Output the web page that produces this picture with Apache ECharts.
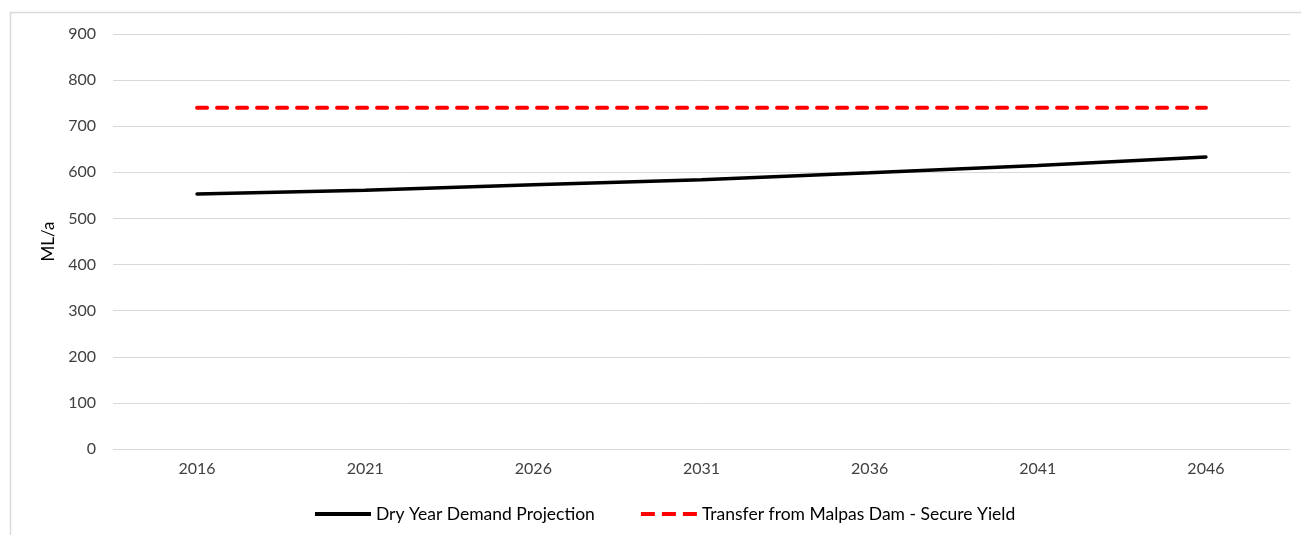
<!DOCTYPE html>
<html>
<head>
<meta charset="utf-8">
<style>
  html, body { margin: 0; padding: 0; background: #fff; }
  #chart { width: 1301px; height: 535px; }
</style>
<script src="https://cdn.jsdelivr.net/npm/echarts@6/dist/echarts.min.js"></script>
</head>
<body>
<div id="chart"></div>
<script>
// Years on the category axis
const years = ['2016', '2021', '2026', '2031', '2036', '2041', '2046'];
// Dry year demand projection (ML/a)
const demand = [553, 561, 573, 584, 599, 615, 633];
// Secure yield available by transfer from Malpas Dam (ML/a)
const secureYield = [740, 740, 740, 740, 740, 740, 740];

const FONT = 'Lato, "Open Sans", sans-serif';

// Legend keys: a solid bar and three dashes
const solidKey = 'path://M0,0 L56,0 L56,4 L0,4 Z';
const dashedKey = 'path://M0,0 L14,0 L14,4 L0,4 Z M21,0 L35,0 L35,4 L21,4 Z M42,0 L56,0 L56,4 L42,4 Z';

const chart = echarts.init(document.getElementById('chart'), null, { renderer: 'canvas' });

chart.setOption({
  backgroundColor: '#ffffff',
  animation: false,
  graphic: [{
    type: 'rect',
    shape: { x: 10.5, y: 12.5, width: 1300, height: 540 },
    style: { fill: 'none', stroke: '#d9d9d9', lineWidth: 1.5 },
    silent: true
  }],
  grid: { left: 113, right: 11, top: 34, bottom: 86 },
  legend: {
    bottom: 7,
    left: 310,
    itemWidth: 56,
    itemHeight: 4,
    itemGap: 46,
    textStyle: { fontFamily: FONT, fontSize: 17.5, color: '#000' },
    data: [
      { name: 'Dry Year Demand Projection', icon: solidKey },
      { name: 'Transfer from Malpas Dam - Secure Yield', icon: dashedKey }
    ]
  },
  xAxis: {
    type: 'category',
    data: years,
    boundaryGap: true,
    axisLine: { show: false },
    axisTick: { show: false },
    axisLabel: { fontFamily: FONT, fontSize: 16, color: '#404040', margin: 12 }
  },
  yAxis: {
    type: 'value',
    min: 0,
    max: 900,
    interval: 100,
    name: 'ML/a',
    nameLocation: 'middle',
    nameGap: 56,
    nameRotate: 90,
    nameTextStyle: { fontFamily: FONT, fontSize: 17, color: '#000' },
    axisLine: { show: false },
    axisTick: { show: false },
    axisLabel: { fontFamily: FONT, fontSize: 16, color: '#404040', margin: 17 },
    splitLine: { lineStyle: { color: '#d9d9d9', width: 1 } }
  },
  series: [
    {
      name: 'Dry Year Demand Projection',
      type: 'line',
      data: demand,
      symbol: 'none',
      lineStyle: { color: '#000000', width: 3.5, cap: 'round' },
      itemStyle: { color: '#000000' }
    },
    {
      name: 'Transfer from Malpas Dam - Secure Yield',
      type: 'line',
      data: secureYield,
      symbol: 'none',
      lineStyle: { color: '#ff0000', width: 4, type: [10, 10], cap: 'round' },
      itemStyle: { color: '#ff0000' }
    }
  ]
});
</script>
</body>
</html>
